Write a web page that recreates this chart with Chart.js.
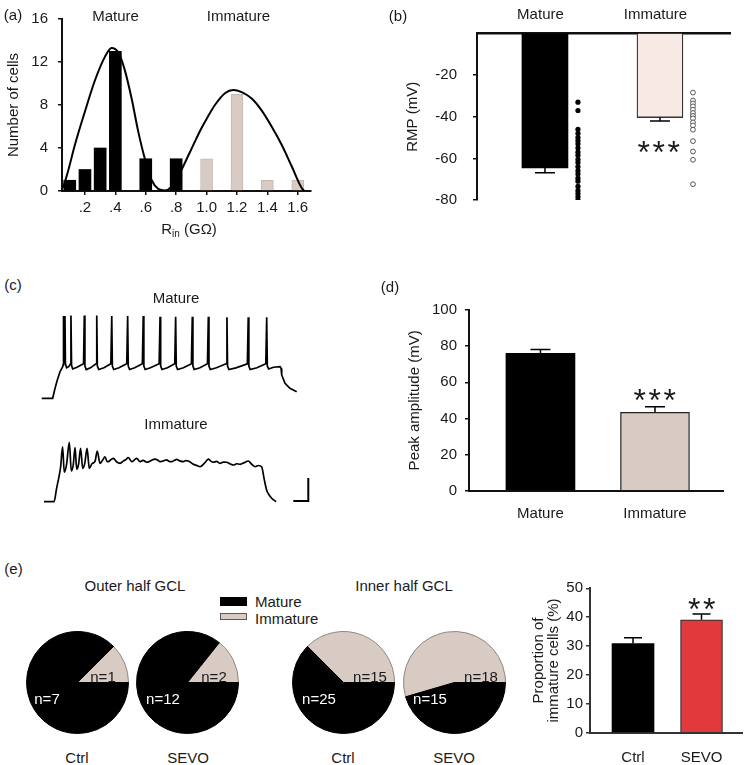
<!DOCTYPE html>
<html lang="en">
<head>
<meta charset="utf-8">
<title>Mature vs immature granule cells</title>
<script src="https://cdn.jsdelivr.net/npm/chart.js@4.4.1/dist/chart.umd.min.js"></script>
<style>
html,body{margin:0;padding:0;background:#fff;}
#fig{position:relative;width:755px;height:765px;overflow:hidden;font-family:"Liberation Sans",Arial,Helvetica,sans-serif;color:#1a1a1a;}
#fig canvas{position:absolute;z-index:1;}
.t{position:absolute;z-index:3;white-space:nowrap;font-size:15px;line-height:15px;height:15px;transform:translate(-50%,-50%);}
.t sub{font-size:10px;line-height:10px;vertical-align:-3px;}
.l{position:absolute;z-index:3;white-space:nowrap;font-size:15px;line-height:15px;transform:translateY(-50%);}
.ast{position:absolute;z-index:3;white-space:nowrap;font-size:32px;line-height:32px;letter-spacing:2.5px;transform:translateX(-50%);}
.w{color:#fff;}
.sw{position:absolute;z-index:3;}
</style>
</head>
<body>
<div id="fig">
  <div class="t" style="left:13px;top:14px">(a)</div>
  <div class="t" style="left:115.5px;top:15px">Mature</div>
  <div class="t" style="left:238.5px;top:15px">Immature</div>
  <div class="t" style="left:189px;top:228px">R<sub>in</sub> (GΩ)</div>

  <div class="t" style="left:398px;top:15px">(b)</div>
  <div class="ast" style="left:660px;top:136px">***</div>

  <div class="t" style="left:13px;top:284px">(c)</div>
  <div class="t" style="left:176px;top:297px">Mature</div>
  <div class="t" style="left:176px;top:423px">Immature</div>

  <div class="t" style="left:390px;top:286px">(d)</div>
  <div class="ast" style="left:656px;top:384px">***</div>

  <div class="t" style="left:13.5px;top:567.5px">(e)</div>
  <div class="t" style="left:135px;top:585px">Outer half GCL</div>
  <div class="t" style="left:404px;top:585px">Inner half GCL</div>
  <div class="sw" style="left:220px;top:597px;width:27px;height:9px;background:#000"></div>
  <div class="sw" style="left:220px;top:613px;width:25px;height:5px;background:#d8cbc3;border:1px solid #5f5753"></div>
  <div class="l" style="left:255px;top:601px">Mature</div>
  <div class="l" style="left:255px;top:618px">Immature</div>

  <div class="t" style="left:103px;top:676px">n=1</div>
  <div class="t w" style="left:47px;top:698px">n=7</div>
  <div class="t" style="left:214px;top:676px">n=2</div>
  <div class="t w" style="left:163px;top:698px">n=12</div>
  <div class="t" style="left:370px;top:676px">n=15</div>
  <div class="t w" style="left:319px;top:698px">n=25</div>
  <div class="t" style="left:481px;top:676px">n=18</div>
  <div class="t w" style="left:430px;top:698px">n=15</div>

  <div class="t" style="left:77px;top:757px">Ctrl</div>
  <div class="t" style="left:188px;top:757px">SEVO</div>
  <div class="t" style="left:343px;top:757px">Ctrl</div>
  <div class="t" style="left:454px;top:757px">SEVO</div>
  <div class="ast" style="left:703px;top:593px">**</div>
</div>
<script>
// ---------------- (a) input-resistance histogram ----------------
const rinMatureBins = [0.1, 0.2, 0.3, 0.4, 0.6, 0.8];
const rinMatureCounts = [1, 2, 4, 13, 3, 3];
const rinImmatureBins = [1.0, 1.2, 1.4, 1.6];
const rinImmatureCounts = [3, 9, 1, 1];
const rinFitX = [0.057, 0.09, 0.134, 0.2, 0.266, 0.332, 0.375, 0.419, 0.463, 0.507, 0.551, 0.595, 0.639, 0.682, 0.726, 0.77, 0.80, 0.836, 0.88, 0.92, 0.961, 1.0, 1.055, 1.121, 1.176, 1.231, 1.297, 1.362, 1.428, 1.494, 1.56, 1.625, 1.642];
const rinFitY = [0.3, 1.9, 4.3, 7.4, 10.3, 12.5, 13.3, 12.9, 11.2, 8.6, 5.5, 2.95, 1.0, 0.2, 0.05, 0.4, 1.1, 2.0, 3.3, 4.5, 5.7, 6.7, 8.0, 9.1, 9.4, 9.2, 8.6, 7.5, 6.0, 4.3, 2.3, 0.3, 0];
const rinTickValues = [0.2, 0.4, 0.6, 0.8, 1.0, 1.2, 1.4, 1.6];
const rinTickLabels = ['.2', '.4', '.6', '.8', '1.0', '1.2', '1.4', '1.6'];
const countTickValues = [0, 4, 8, 12, 16];

// ---------------- (b) resting membrane potential ----------------
const groups = ['Mature', 'Immature'];
const rmpMean = [-64.6, -40.4];
const rmpSem = [2.3, 1.6];
const rmpMatureCells = [-33, -37, -46, -48, -50, -51.5, -53, -55, -57, -58.5, -60.5, -62, -64, -66, -67.5, -69.5, -71, -73.5, -75.5, -77, -78.5, -80];
const rmpImmatureCells = [-28.4, -32.2, -33.6, -35, -36.6, -38.2, -39.6, -40.8, -42.7, -44.2, -46.2, -51.7, -56.7, -60.7, -72.4];
const rmpTickValues = [-80, -60, -40, -20];

// ---------------- (c) example current-clamp traces (ms, mV) ----------------
const matureTrace = [
  [0,-70],[73,-70],[89,-61.3],[104,-54.1],[122,-46.9],[140,-42.5],
  [143,-41],[144,1.5],[147,-38],[152,-39],[155,1.5],[158,-40],[166,-43.5],[180,-42.5],[190,-40.5],
  [195,2],[199,-41.5],[207,-44.5],[235,-43],[279,-40],
  [284,2],[288,-42],[297,-45],[325,-43.5],[362,-40],
  [367,2],[371,-42],[380,-45],[415,-43.5],[461,-40],
  [467,1.5],[471,-42],[480,-45],[515,-43.5],[567,-40],
  [573,1.5],[577,-42],[586,-45],[620,-43.5],[671,-40],
  [677,1.5],[681,-42],[690,-45],[725,-43.5],[783,-40],
  [789,1],[793,-42],[802,-45],[838,-43.5],[887,-40],
  [893,1],[897,-42],[906,-45],[945,-43.5],[998,-40],
  [1004,1],[1008,-42],[1017,-45],[1055,-43.5],[1105,-40],
  [1111,1],[1115,-42],[1124,-45],[1165,-43.5],[1229,-40],
  [1235,0.5],[1239,-42],[1248,-45],[1295,-43.5],[1371,-40],
  [1377,0.5],[1381,-42],[1390,-45],[1435,-43.5],[1494,-40],
  [1500,0.5],[1504,-42],[1513,-44.5],[1545,-43],[1589,-42.5],
  [1596,-44],[1600,-49.7],[1622,-57],[1655,-61.3],[1700,-64.3]
];
const immatureTrace = [
  [0,-70],[67,-70],[84,-58.4],[102,-46.8],[111,-39.6],[124,-22.2],[135,-44.4],[150,-38],[169,-18.3],[182,-43.3],
  [195,-38],[207,-23],[218,-41.8],[231,-37],[244,-23.6],[258,-41],[272,-36.5],[287,-23.6],[302,-41],[320,-37],
  [340,-35],[355,-25.9],[373,-36.6],[390,-34],[407,-30.9],[420,-35],[429,-35.2],[445,-33.5],[462,-32.3],[485,-35.5],
  [507,-36.6],[530,-34.5],[545,-33.5],[562,-31.7],[585,-35.2],[600,-34],[618,-32.3],[640,-35.2],[660,-34],[685,-35.7],
  [710,-34.5],[740,-32.9],[760,-34],[773,-35.2],[795,-34.5],[818,-33.7],[835,-35],[851,-35.2],[870,-34],[885,-33.2],
  [905,-34.5],[929,-35.2],[945,-34.2],[962,-34.6],[980,-36],[996,-37.5],[1020,-38.5],[1040,-39.6],[1070,-36.5],[1096,-32.9],
  [1110,-34.5],[1129,-35.7],[1150,-35],[1173,-36.6],[1195,-35.5],[1218,-35.7],[1240,-37],[1262,-38.1],[1285,-37],[1307,-37.5],
  [1335,-36],[1362,-34.6],[1385,-37.5],[1407,-39.6],[1430,-38.5],[1451,-39.6],[1467,-49.7],[1484,-59.8],[1500,-64],[1518,-67],[1547,-70]
];
const scaleBar = [[1662,-69.4],[1762,-69.4],[1762,-49.4]]; // 100 ms, 20 mV

// ---------------- (d) spike peak amplitude ----------------
const peakMean = [76.0, 43.4];
const peakSem = [2.2, 3.1];
const peakTickValues = [0, 20, 40, 60, 80, 100];

// ---------------- (e) proportions ----------------
const conditions = ['Ctrl', 'SEVO'];
const outerImmature = [1, 2];
const outerMature = [7, 12];
const innerImmature = [15, 18];
const innerMature = [25, 15];
const proportionMean = [30.9, 39.1];
const proportionSem = [2.0, 2.0];
const proportionTickValues = [0, 10, 20, 30, 40, 50];

// ---------------- styling ----------------
const TAN = '#d8cbc3';
const PINK = '#f7eae5';
const RED = '#e2393c';
const AX = '#111';
const DOT_SHIFT = 0.287;

Chart.defaults.font.family = '"Liberation Sans", Arial, Helvetica, sans-serif';
Chart.defaults.font.size = 15;
Chart.defaults.color = '#1a1a1a';
Chart.defaults.animation = false;
Chart.defaults.responsive = false;
Chart.defaults.devicePixelRatio = 1;
Chart.defaults.events = [];
Chart.defaults.plugins.legend.display = false;
Chart.defaults.plugins.tooltip.enabled = false;

const fig = document.getElementById('fig');
function mk(left, top, w, h) {
  const c = document.createElement('canvas');
  c.width = w; c.height = h;
  c.style.left = left + 'px'; c.style.top = top + 'px';
  c.style.width = w + 'px'; c.style.height = h + 'px';
  fig.appendChild(c);
  return c;
}
const fixedTicks = vals => s => { s.ticks = vals.map(v => ({ value: v })); };
const border = w => ({ display: true, color: AX, width: w || 2 });
const tickGrid = { display: true, drawOnChartArea: false, drawTicks: true, tickLength: 4, color: AX, lineWidth: 1.5, offset: false };
const noTickGrid = { display: true, drawOnChartArea: false, drawTicks: false, offset: false };

const errorBars = {
  id: 'errorBars',
  afterDatasetsDraw(chart) {
    const ctx = chart.ctx;
    chart.data.datasets.forEach((ds, di) => {
      if (!ds.errors) return;
      const meta = chart.getDatasetMeta(di);
      const ys = chart.scales[meta.yAxisID];
      meta.data.forEach((el, i) => {
        const v = ds.data[i].y;
        const e = ds.errors[i];
        const tip = v < 0 ? v - e : v + e;
        const y0 = ys.getPixelForValue(v);
        const y1 = ys.getPixelForValue(tip);
        const half = (ds.capWidth || 20) / 2;
        ctx.save();
        ctx.strokeStyle = '#000';
        ctx.lineWidth = 1.5;
        ctx.beginPath();
        ctx.moveTo(el.x, y0); ctx.lineTo(el.x, y1);
        ctx.moveTo(el.x - half, y1); ctx.lineTo(el.x + half, y1);
        ctx.stroke();
        ctx.restore();
      });
    });
  }
};

// ---------------- (a) ----------------
new Chart(mk(0, 0, 330, 225), {
  type: 'bar',
  data: {
    datasets: [
      { type: 'line', data: rinFitX.map((x, i) => ({ x, y: rinFitY[i] })), borderColor: '#000', borderWidth: 2,
        pointRadius: 0, cubicInterpolationMode: 'monotone', fill: false, order: -1 },
      { data: rinMatureBins.map((x, i) => ({ x, y: rinMatureCounts[i] })), backgroundColor: '#000', barThickness: 12, grouped: false },
      { data: rinImmatureBins.map((x, i) => ({ x, y: rinImmatureCounts[i] })), backgroundColor: TAN, borderColor: '#c6b8af',
        borderWidth: 1, barThickness: 12, grouped: false }
    ]
  },
  options: {
    layout: { padding: { top: 13.5, right: 19, left: 0, bottom: 0 } },
    scales: {
      x: { type: 'linear', min: 0.049, max: 1.687, offset: false, border: border(2), grid: tickGrid,
           ticks: { padding: 4, callback: (v, i) => rinTickLabels[i] },
           afterBuildTicks: fixedTicks(rinTickValues), afterFit: s => { s.height = 34; } },
      y: { type: 'linear', min: 0, max: 16, border: border(2), grid: tickGrid, ticks: { padding: 10 },
           afterBuildTicks: fixedTicks(countTickValues), afterFit: s => { s.width = 62; },
           title: { display: true, text: 'Number of cells', padding: { top: 4.5, bottom: 0 } } }
    }
  }
});

// ---------------- (b) ----------------
new Chart(mk(400, 0, 355, 225), {
  type: 'bar',
  data: {
    datasets: [
      { data: groups.map((g, i) => ({ x: i + 1, y: rmpMean[i] })), backgroundColor: ['#000', PINK], borderColor: ['#000', '#333'],
        borderWidth: [0, 1.3], barThickness: 46, grouped: false, errors: rmpSem, capWidth: 20 },
      { type: 'scatter', data: rmpMatureCells.map(v => ({ x: 1 + DOT_SHIFT, y: v })), pointRadius: 2.6,
        backgroundColor: '#000', borderColor: '#000', borderWidth: 0 },
      { type: 'scatter', data: rmpImmatureCells.map(v => ({ x: 2 + DOT_SHIFT, y: v })), pointRadius: 2.4,
        backgroundColor: '#fff', borderColor: '#444', borderWidth: 0.9 }
    ]
  },
  options: {
    layout: { padding: { top: 0, right: 25, left: 0, bottom: 14 } },
    scales: {
      x: { type: 'linear', position: 'top', min: 0.409, max: 2.609, offset: false, border: border(2.5), grid: noTickGrid,
           ticks: { padding: 9.5, labelOffset: -4.5, callback: v => groups[v - 1] },
           afterBuildTicks: fixedTicks([1, 2]), afterFit: s => { s.height = 33.5; } },
      y: { type: 'linear', min: -80, max: 0, border: border(2), grid: tickGrid, ticks: { padding: 16 },
           afterBuildTicks: fixedTicks(rmpTickValues), afterFit: s => { s.width = 77; },
           title: { display: true, text: 'RMP (mV)', padding: { top: 4, bottom: 0 } } }
    }
  },
  plugins: [errorBars]
});

// ---------------- (c) ----------------
new Chart(mk(35, 300, 280, 110), {
  type: 'scatter',
  data: { datasets: [ { data: matureTrace.map(([x, y]) => ({ x, y })), showLine: true, pointRadius: 0,
                        borderColor: '#000', borderWidth: 1.7, tension: 0 } ] },
  options: { layout: { padding: 0 },
    scales: { x: { type: 'linear', display: false, min: -44.7, max: 1822 }, y: { display: false, min: -80.2, max: 15.5 } } }
});
new Chart(mk(35, 435, 285, 75), {
  type: 'scatter',
  data: { datasets: [
    { data: immatureTrace.map(([x, y]) => ({ x, y })), showLine: true, pointRadius: 0, borderColor: '#000', borderWidth: 1.7,
      cubicInterpolationMode: 'monotone' },
    { data: scaleBar.map(([x, y]) => ({ x, y })), showLine: true, pointRadius: 0, borderColor: '#000', borderWidth: 2 }
  ] },
  options: { layout: { padding: 0 },
    scales: { x: { type: 'linear', display: false, min: -60, max: 1840 }, y: { display: false, min: -77.2, max: -12 } } }
});

// ---------------- (d) ----------------
new Chart(mk(380, 290, 375, 245), {
  type: 'bar',
  data: { datasets: [
    { data: groups.map((g, i) => ({ x: i + 1, y: peakMean[i] })), backgroundColor: ['#000', TAN], borderColor: ['#000', '#222'],
      borderWidth: [0, 1.3], barThickness: 69, grouped: false, errors: peakSem, capWidth: 20 }
  ] },
  options: {
    layout: { padding: { top: 20, right: 32, left: 0, bottom: 0 } },
    scales: {
      x: { type: 'linear', min: 0.376, max: 2.594, offset: false, border: border(2), grid: noTickGrid,
           ticks: { padding: 14.3, callback: v => groups[v - 1] },
           afterBuildTicks: fixedTicks([1, 2]), afterFit: s => { s.height = 44.3; } },
      y: { type: 'linear', min: 0, max: 100, border: border(2), grid: tickGrid, ticks: { padding: 8 },
           afterBuildTicks: fixedTicks(peakTickValues), afterFit: s => { s.width = 89; },
           title: { display: true, text: 'Peak amplitude (mV)', padding: { top: 26, bottom: 0 } } }
    }
  },
  plugins: [errorBars]
});

// ---------------- (e) pies ----------------
function pie(left, top, imm, mat) {
  const frac = imm / (imm + mat);
  new Chart(mk(left, top, 103, 103), {
    type: 'pie',
    data: { labels: ['Immature', 'Mature'],
            datasets: [ { data: [imm, mat], backgroundColor: [TAN, '#000'], borderColor: ['#8f8680', '#000'], borderWidth: 1 } ] },
    options: { rotation: 90 - 360 * frac, layout: { padding: 0 } }
  });
}
pie(25.7, 631, outerImmature[0], outerMature[0]);
pie(136.3, 631, outerImmature[1], outerMature[1]);
pie(291.8, 631, innerImmature[0], innerMature[0]);
pie(402.7, 631, innerImmature[1], innerMature[1]);

// ---------------- (e) bar ----------------
new Chart(mk(520, 575, 235, 190), {
  type: 'bar',
  data: { datasets: [
    { data: conditions.map((c, i) => ({ x: i + 1, y: proportionMean[i] })), backgroundColor: ['#000', RED], borderColor: ['#000', '#333'],
      borderWidth: [0, 1.2], barThickness: 42, grouped: false, errors: proportionSem, capWidth: 18 }
  ] },
  options: {
    layout: { padding: { top: 13.3, right: 13, left: 0, bottom: 0 } },
    scales: {
      x: { type: 'linear', min: 0.372, max: 2.591, offset: false, border: { display: true, color: '#333', width: 2 }, grid: noTickGrid,
           ticks: { padding: 16.3, callback: v => conditions[v - 1] },
           afterBuildTicks: fixedTicks([1, 2]), afterFit: s => { s.height = 32.3; } },
      y: { type: 'linear', min: 0, max: 50, border: { display: true, color: '#333', width: 2 },
           grid: Object.assign({}, tickGrid, { color: '#333' }), ticks: { padding: 3 },
           afterBuildTicks: fixedTicks(proportionTickValues), afterFit: s => { s.width = 70; },
           title: { display: true, text: ['Proportion of', 'immature cells (%)'], font: { size: 15, lineHeight: 1 },
                    padding: { top: 11, bottom: 0 } } }
    }
  },
  plugins: [errorBars]
});
</script>
</body>
</html>
